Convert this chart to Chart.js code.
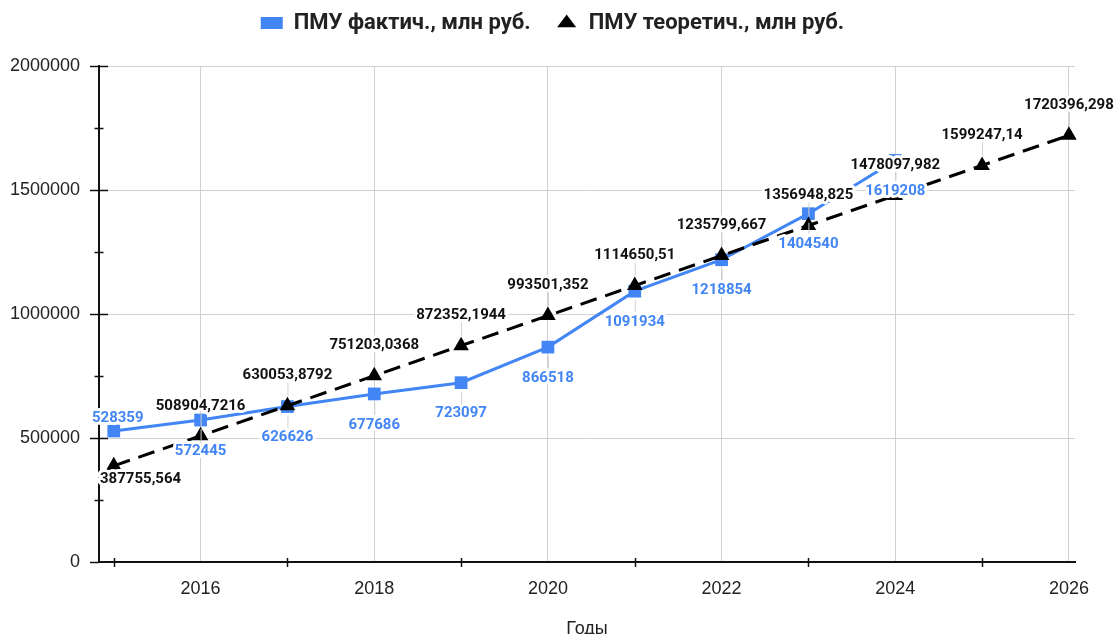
<!DOCTYPE html>
<html>
<head>
<meta charset="utf-8">
<script src="https://cdn.jsdelivr.net/npm/chart.js@4.4.1/dist/chart.umd.min.js"></script>
<style>
  html, body { margin: 0; background: #fff; }
  #wrap { width: 1117px; height: 634px; }
</style>
</head>
<body>
<div id="wrap"><canvas id="chart"></canvas></div>
<script>
// data
const factYears = [2015, 2016, 2017, 2018, 2019, 2020, 2021, 2022, 2023, 2024];
const factValues = [528359, 572445, 626626, 677686, 723097, 866518, 1091934, 1218854, 1404540, 1619208];
const theorYears = [2015, 2016, 2017, 2018, 2019, 2020, 2021, 2022, 2023, 2024, 2025, 2026];
const theorValues = [387755.564, 508904.7216, 630053.8792, 751203.0368, 872352.1944, 993501.352,
    1114650.51, 1235799.667, 1356948.825, 1478097.982, 1599247.14, 1720396.298];
const xTickLabels = [2016, 2018, 2020, 2022, 2024, 2026];
const yTickLabels = [0, 500000, 1000000, 1500000, 2000000];

const BLUE = '#4285f4';
const fmt = v => String(v).replace('.', ',');

// extra room under the legend
const legendGap = {
    id: 'legendGap',
    afterInit(chart) {
        const lg = chart.legend;
        if (!lg) return;
        const fit = lg.fit.bind(lg);
        lg.fit = function () { fit(); this.height += 22; };
    }
};

// value labels with white halo + faint leader lines
const valueLabels = {
    id: 'valueLabels',
    afterDatasetsDraw(chart) {
        const ctx = chart.ctx;
        const area = chart.chartArea;
        ctx.save();
        ctx.font = 'bold 15px Roboto';
        ctx.textAlign = 'center';
        ctx.textBaseline = 'middle';
        const items = [];
        chart.data.datasets.forEach((ds, di) => {
            const meta = chart.getDatasetMeta(di);
            meta.data.forEach((pt, i) => {
                const text = fmt(ds.data[i].y);
                const dy = ds.labelDy(i);
                const w = ctx.measureText(text).width;
                let x = pt.x;
                if (i === 0) x = Math.max(x + 4, ds.clampLeft ? area.left + 1 + w / 2 : 0);
                items.push({ text, x, y: pt.y + dy, px: pt.x, py: pt.y, dy, color: ds.labelColor });
            });
        });
        // leader lines
        ctx.strokeStyle = '#d0d0d0';
        ctx.lineWidth = 1;
        items.forEach(it => {
            if (Math.abs(it.dy) < 20) return;
            const s = Math.sign(it.dy);
            ctx.beginPath();
            ctx.moveTo(it.px + 0.5, it.py + s * 9);
            ctx.lineTo(it.px + 0.5, it.y - s * 7);
            ctx.stroke();
        });
        items.forEach(it => {
            ctx.lineWidth = 6;
            ctx.lineJoin = 'round';
            ctx.strokeStyle = '#fff';
            ctx.strokeText(it.text, it.x, it.y);
            ctx.fillStyle = it.color;
            ctx.fillText(it.text, it.x, it.y);
        });
        ctx.restore();
    }
};

// tick marks crossing the axes (major + minor)
const axisTicks = {
    id: 'axisTicks',
    afterDraw(chart) {
        const ctx = chart.ctx;
        const xs = chart.scales.x, ys = chart.scales.y;
        const ax = chart.chartArea.left, ay = chart.chartArea.bottom;
        ctx.save();
        ctx.strokeStyle = '#111';
        ctx.lineWidth = 1.5;
        ys.ticks.forEach(t => {
            const y = Math.round(ys.getPixelForValue(t.value)) + 0.5;
            const major = yTickLabels.includes(t.value);
            ctx.beginPath();
            ctx.moveTo(ax - (major ? 9 : 4.5), y);
            ctx.lineTo(ax + (major ? (t.value === 0 ? 0 : 9) : 4.5), y);
            ctx.stroke();
        });
        xs.ticks.forEach(t => {
            if (xTickLabels.includes(t.value)) return;
            const x = Math.round(xs.getPixelForValue(t.value)) + 0.5;
            ctx.beginPath();
            ctx.moveTo(x, ay - 4);
            ctx.lineTo(x, ay + 5);
            ctx.stroke();
        });
        ctx.restore();
    }
};

new Chart(document.getElementById('chart'), {
    type: 'line',
    data: {
        datasets: [
            {
                label: 'ПМУ фактич., млн руб.',
                data: factYears.map((y, i) => ({ x: y, y: factValues[i] })),
                borderColor: BLUE,
                backgroundColor: BLUE,
                borderWidth: 3,
                pointStyle: 'rect',
                pointRadius: 9,
                pointBorderWidth: 0,
                order: 1,
                labelColor: BLUE,
                labelDy: i => (i === 0 ? -13 : 31)
            },
            {
                label: 'ПМУ теоретич., млн руб.',
                data: theorYears.map((y, i) => ({ x: y, y: theorValues[i] })),
                borderColor: '#000',
                backgroundColor: '#000',
                borderWidth: 3,
                borderDash: [17, 9],
                pointStyle: 'triangle',
                pointRadius: 9,
                pointBorderWidth: 0,
                order: 0,
                labelColor: '#111',
                clampLeft: true,
                labelDy: i => (i === 0 ? 13 : -30)
            }
        ]
    },
    options: {
        responsive: true,
        maintainAspectRatio: false,
        animation: false,
        clip: false,
        layout: { padding: { top: -13, right: 12, left: 0, bottom: -10 } },
        plugins: {
            tooltip: { enabled: false },
            legend: {
                position: 'top',
                labels: {
                    usePointStyle: true,
                    pointStyleWidth: 22,
                    boxHeight: 12,
                    padding: 25,
                    color: '#222',
                    font: { family: 'Roboto', weight: 'bold', size: 22 },
                    sort: (a, b) => a.datasetIndex - b.datasetIndex
                }
            }
        },
        scales: {
            x: {
                type: 'linear',
                min: 2014.83,
                max: 2026.07,
                afterFit: s => { s.height = 82; s.paddingRight = 42; },
                border: { color: '#111', width: 2 },
                grid: {
                    drawTicks: false,
                    color: c => (xTickLabels.includes(c.tick.value) ? '#d0d0d0' : 'rgba(0,0,0,0)')
                },
                ticks: {
                    stepSize: 1,
                    includeBounds: false,
                    autoSkip: false,
                    maxRotation: 0,
                    padding: 16,
                    color: '#222',
                    font: { family: 'Liberation Sans', size: 18 },
                    callback: v => (xTickLabels.includes(v) ? String(v) : '')
                },
                title: {
                    display: true,
                    text: 'Годы',
                    color: '#222',
                    font: { family: 'Liberation Sans', size: 18 },
                    padding: { top: 0, bottom: 4 }
                }
            },
            y: {
                min: 0,
                max: 2000000,
                afterFit: s => { s.width = 99; },
                border: { color: '#111', width: 2 },
                grid: {
                    drawTicks: false,
                    color: c => (yTickLabels.includes(c.tick.value) ? '#d0d0d0' : 'rgba(0,0,0,0)')
                },
                ticks: {
                    stepSize: 250000,
                    autoSkip: false,
                    padding: 19,
                    color: '#222',
                    font: { family: 'Liberation Sans', size: 18 },
                    callback: v => (yTickLabels.includes(v) ? String(v) : '')
                }
            }
        }
    },
    plugins: [legendGap, valueLabels, axisTicks]
});
</script>
</body>
</html>
